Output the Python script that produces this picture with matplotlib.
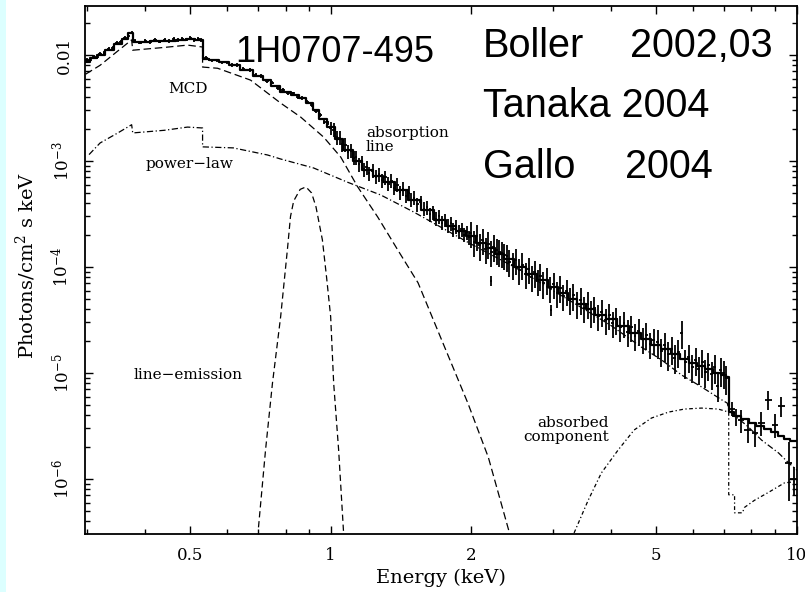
import numpy as np
import matplotlib
matplotlib.use("Agg")
import matplotlib.pyplot as plt
from matplotlib.ticker import FixedLocator, FixedFormatter, NullFormatter, LogLocator
from matplotlib.patches import Rectangle

plt.rcParams['font.family'] = ['DejaVu Serif']
plt.rcParams['mathtext.fontset'] = 'dejavuserif'

# ---------------- tick labels ----------------
x_ticks = [0.5, 1, 2, 5, 10]
x_tick_labels = ["0.5", "1", "2", "5", "10"]
y_ticks = [1e-6, 1e-5, 1e-4, 1e-3, 1e-2]
y_tick_labels = [r"$10^{-6}$", r"$10^{-5}$", r"$10^{-4}$", r"$10^{-3}$", "0.01"]

# ---------------- total model (histogram) ----------------
model_E = [0.298, 0.31, 0.32, 0.335, 0.35, 0.362, 0.372, 0.380, 0.40, 0.42, 0.45, 0.48, 0.50, 0.525, 0.537,
           0.56, 0.59, 0.62, 0.66, 0.70, 0.73, 0.76, 0.80, 0.84, 0.87, 0.90, 0.93, 0.96, 1.00,
           1.04, 1.09, 1.14, 1.20, 1.26, 1.33, 1.42, 1.51, 1.61, 1.72, 1.81, 1.90, 2.0, 2.1, 2.2, 2.3, 2.4,
           2.55, 2.7, 2.85, 3.0, 3.15, 3.3, 3.45, 3.6, 3.8, 4.0, 4.25, 4.5, 4.75, 5.0, 5.25, 5.5, 5.75, 6.0,
           6.25, 6.5, 6.75, 7.0, 7.12, 7.2, 7.45, 7.75, 8.05, 8.35, 8.65, 8.95, 9.25, 9.55, 9.85, 10.05]
model_F = [8.6e-3, 9.3e-3, 1.0e-2, 1.12e-2, 1.28e-2, 1.42e-2, 1.60e-2, 1.34e-2, 1.33e-2, 1.35e-2, 1.37e-2, 1.40e-2,
           1.42e-2, 1.40e-2, 9.2e-3, 8.9e-3, 8.5e-3, 8.1e-3, 7.2e-3, 6.4e-3, 5.8e-3, 5.1e-3, 4.5e-3, 4.2e-3,
           3.9e-3, 3.5e-3, 3.0e-3, 2.5e-3, 2.1e-3, 1.62e-3, 1.27e-3, 1.0e-3, 8.2e-4, 7.2e-4, 6.4e-4, 5.3e-4,
           4.3e-4, 3.45e-4, 2.8e-4, 2.45e-4, 2.2e-4, 1.95e-4, 1.7e-4, 1.5e-4, 1.33e-4, 1.2e-4, 1.0e-4, 8.6e-5,
           7.5e-5, 6.5e-5, 5.7e-5, 5.0e-5, 4.5e-5, 4.0e-5, 3.55e-5, 3.2e-5, 2.75e-5, 2.4e-5, 2.1e-5, 1.85e-5,
           1.68e-5, 1.5e-5, 1.37e-5, 1.25e-5, 1.16e-5, 1.08e-5, 1.0e-5, 9.5e-6, 9.2e-6, 4.3e-6, 3.95e-6,
           3.65e-6, 3.4e-6, 3.15e-6, 2.95e-6, 2.75e-6, 2.55e-6, 2.4e-6, 2.3e-6, 2.3e-6]

# ---------------- model components ----------------
mcd_E = [0.298, 0.32, 0.35, 0.374, 0.376, 0.44, 0.493, 0.531, 0.531, 0.572, 0.673, 0.781, 0.862, 0.966,
         1.051, 1.143, 1.262, 1.393, 1.54, 1.72, 1.97, 2.18, 2.41]
mcd_F = [6.6e-3, 8.0e-3, 1.1e-2, 1.39e-2, 1.11e-2, 1.18e-2, 1.24e-2, 1.19e-2, 7.7e-3, 7.5e-3, 5.8e-3,
         3.52e-3, 2.6e-3, 1.68e-3, 1.09e-3, 5.7e-4, 2.96e-4, 1.45e-4, 7.1e-5, 2.19e-5, 5.2e-6, 1.6e-6, 3.3e-7]

pl_E = [0.303, 0.32, 0.35, 0.374, 0.376, 0.44, 0.493, 0.531, 0.531, 0.618, 0.732, 0.781, 0.919, 1.088,
        1.281, 1.508, 2.0, 2.5, 3.0, 3.5, 4.0, 4.64, 5.13, 5.66, 6.25, 6.9, 7.1, 7.16, 7.88, 8.41, 9.15,
        9.61, 10.05]
pl_F = [1.15e-3, 1.48e-3, 1.85e-3, 2.2e-3, 1.84e-3, 1.95e-3, 2.09e-3, 2.05e-3, 1.36e-3, 1.33e-3, 1.14e-3,
        1.045e-3, 8.6e-4, 6.3e-4, 4.78e-4, 3.3e-4, 1.65e-4, 9.8e-5, 6.0e-5, 4.0e-5, 2.8e-5, 1.76e-5,
        1.33e-5, 9.6e-6, 7.4e-6, 5.6e-6, 5.2e-6, 4.4e-6, 3.1e-6, 2.33e-6, 1.76e-6, 1.42e-6, 1.2e-6]

line_E = [0.70, 0.725, 0.75, 0.781, 0.808, 0.82, 0.833, 0.86, 0.885, 0.91, 0.93, 0.96, 0.98, 1.0,
          1.015, 1.04, 1.066]
line_F = [3.5e-7, 1.9e-6, 8.0e-6, 3.4e-5, 1.5e-4, 3.0e-4, 4.2e-4, 5.4e-4, 5.7e-4, 5.0e-4, 3.7e-4,
          1.8e-4, 8.0e-5, 3.4e-5, 8.0e-6, 1.9e-6, 3.1e-7]

abs_E = [3.33, 3.57, 3.81, 4.14, 4.48, 4.88, 5.31, 5.74, 6.25, 6.79, 7.15, 7.15, 7.36, 7.36, 7.65,
         7.73, 8.12, 8.71, 9.42, 10.05]
abs_F = [3.1e-7, 6.3e-7, 1.14e-6, 1.88e-6, 2.9e-6, 3.76e-6, 4.28e-6, 4.57e-6, 4.67e-6, 4.57e-6,
         4.28e-6, 7.1e-7, 7.1e-7, 4.8e-7, 4.8e-7, 5.4e-7, 6.3e-7, 7.5e-7, 9.2e-7, 9.5e-7]

# ---------------- observed spectrum (by energy band) ----------------
soft_E = [0.300, 0.305, 0.31, 0.315, 0.32, 0.327, 0.334, 0.341, 0.348, 0.355, 0.362, 0.368, 0.374, 0.380,
          0.39, 0.40, 0.41, 0.42, 0.43, 0.44, 0.45, 0.46, 0.47, 0.48, 0.49, 0.50, 0.51, 0.52, 0.528,
          0.54, 0.555, 0.57, 0.585, 0.60, 0.615, 0.63, 0.65, 0.67, 0.69, 0.71, 0.73, 0.75, 0.77, 0.79,
          0.81, 0.83, 0.85, 0.87, 0.89, 0.91, 0.93, 0.95, 0.97, 0.985]
soft_F = [9.0e-3, 8.9e-3, 9.6e-3, 9.5e-3, 1.03e-2, 1.04e-2, 1.14e-2, 1.16e-2, 1.29e-2, 1.32e-2, 1.46e-2,
          1.50e-2, 1.63e-2, 1.37e-2, 1.31e-2, 1.35e-2, 1.33e-2, 1.38e-2, 1.34e-2, 1.39e-2, 1.36e-2,
          1.41e-2, 1.38e-2, 1.43e-2, 1.40e-2, 1.44e-2, 1.39e-2, 1.42e-2, 1.38e-2, 9.4e-3, 8.9e-3, 8.9e-3,
          8.5e-3, 8.5e-3, 8.0e-3, 8.0e-3, 7.4e-3, 7.2e-3, 6.5e-3, 6.3e-3, 5.7e-3, 5.5e-3, 4.85e-3, 4.7e-3,
          4.4e-3, 4.35e-3, 4.0e-3, 3.95e-3, 3.6e-3, 3.4e-3, 2.95e-3, 2.72e-3, 2.35e-3, 2.28e-3]
soft_err = 0.04

mid_E = [1.00, 1.015, 1.03, 1.045, 1.06, 1.075, 1.09, 1.105, 1.12, 1.135, 1.15, 1.165, 1.18, 1.195, 1.21,
         1.23, 1.25, 1.27, 1.29, 1.31, 1.33, 1.35, 1.37, 1.39, 1.41, 1.43, 1.45, 1.47, 1.49, 1.51,
         1.535, 1.56, 1.585, 1.61, 1.635, 1.66, 1.685, 1.71, 1.735, 1.76, 1.785, 1.81, 1.835, 1.86,
         1.885, 1.91, 1.935, 1.96, 1.985]
mid_F = [2.05e-3, 1.98e-3, 1.68e-3, 1.66e-3, 1.44e-3, 1.43e-3, 1.22e-3, 1.25e-3, 1.07e-3, 1.08e-3, 9.3e-4,
         9.7e-4, 8.4e-4, 8.7e-4, 7.7e-4, 8.1e-4, 7.1e-4, 7.5e-4, 6.6e-4, 7.0e-4, 6.1e-4, 6.5e-4, 5.6e-4,
         5.95e-4, 5.1e-4, 5.5e-4, 4.7e-4, 5.0e-4, 4.3e-4, 4.5e-4, 3.9e-4, 4.1e-4, 3.55e-4, 3.65e-4,
         3.15e-4, 3.3e-4, 2.85e-4, 3.0e-4, 2.62e-4, 2.78e-4, 2.45e-4, 2.58e-4, 2.28e-4, 2.42e-4, 2.15e-4,
         2.28e-4, 2.02e-4, 2.12e-4, 1.9e-4]
mid_err = 0.15

hard_E = [2.00, 2.03, 2.06, 2.09, 2.12, 2.15, 2.18, 2.21, 2.24, 2.27, 2.30, 2.33, 2.36, 2.39, 2.42,
          2.46, 2.50, 2.54, 2.58, 2.62, 2.66, 2.70, 2.74, 2.78, 2.82, 2.86, 2.91, 2.96, 3.01, 3.06,
          3.11, 3.16, 3.21, 3.26, 3.32, 3.38, 3.44, 3.50, 3.56, 3.62, 3.68, 3.75, 3.82, 3.89, 3.96,
          4.03, 4.10, 4.18, 4.26, 4.34, 4.42, 4.50, 4.58, 4.67, 4.76, 4.85, 4.94]
hard_F = [2.1e-4, 1.72e-4, 1.95e-4, 1.6e-4, 1.8e-4, 1.48e-4, 1.66e-4, 1.38e-4, 1.55e-4, 1.45e-4, 1.40e-4,
          1.36e-4, 1.30e-4, 1.26e-4, 1.12e-4, 1.05e-4, 1.16e-4, 9.4e-5, 1.05e-4, 8.6e-5, 9.6e-5, 8.0e-5,
          8.9e-5, 7.4e-5, 8.3e-5, 7.0e-5, 7.6e-5, 6.3e-5, 6.9e-5, 5.7e-5, 6.4e-5, 5.3e-5, 5.9e-5, 4.9e-5,
          5.4e-5, 4.5e-5, 4.9e-5, 4.1e-5, 4.5e-5, 3.7e-5, 4.1e-5, 3.45e-5, 3.8e-5, 3.15e-5, 3.5e-5,
          2.95e-5, 3.2e-5, 2.7e-5, 2.95e-5, 2.45e-5, 2.7e-5, 2.25e-5, 2.5e-5, 2.1e-5, 2.3e-5, 1.88e-5, 2.05e-5]
hard_err = 0.28

top_E = [5.03, 5.12, 5.21, 5.30, 5.39, 5.48, 5.57, 5.67, 5.77, 5.87, 5.97, 6.07, 6.17, 6.27, 6.37,
         6.47, 6.57, 6.67, 6.77, 6.87, 6.97, 7.07]
top_F = [1.95e-5, 1.62e-5, 1.82e-5, 1.5e-5, 1.7e-5, 1.4e-5, 1.58e-5, 2.4e-5, 1.26e-5, 1.42e-5, 1.15e-5,
         1.33e-5, 1.1e-5, 1.27e-5, 1.03e-5, 1.2e-5, 9.8e-6, 1.13e-5, 7.6e-6, 1.06e-5, 1.0e-5, 8.9e-6]
top_err = 0.3

outlier_E = [2.21, 2.97]
outlier_F = [7.4e-5, 3.9e-5]
outlier_err = [0.1, 0.12]

edge_E = [7.25, 7.40, 7.60, 7.85, 8.15, 8.40, 8.70, 8.98, 9.28, 9.62, 9.85]
edge_F = [4.6e-6, 3.9e-6, 3.6e-6, 2.9e-6, 2.7e-6, 3.4e-6, 5.6e-6, 3.25e-6, 4.9e-6, 1.42e-6, 1.0e-6]
edge_err = [0.15, 0.18, 0.25, 0.25, 0.25, 0.25, 0.2, 0.25, 0.22, 0.56, 0.3]

# ---------------- figure ----------------
W, H = 805, 592
fig = plt.figure(figsize=(W / 100, H / 100), dpi=100)
fig.patches.append(Rectangle((0, 0), 6 / W, 1, transform=fig.transFigure,
                             facecolor='#dcffff', edgecolor='none', zorder=0))
ax = fig.add_axes([85 / W, 58 / H, 712 / W, 528 / H])
ax.set_xscale('log')
ax.set_yscale('log')
ax.set_xlim(0.297, 10.02)
ax.set_ylim(3.03e-7, 2.9e-2)

k = 'black'
ax.plot(mcd_E, mcd_F, color=k, lw=0.9, ls=(0, (6, 3)))
ax.plot(pl_E, pl_F, color=k, lw=0.9, ls=(0, (5, 2, 1, 2)))
ax.plot(line_E, line_F, color=k, lw=0.9, ls=(0, (5, 3)))
ax.plot(abs_E, abs_F, color=k, lw=0.9, ls=(0, (3, 2, 1, 2)))

segments = [
    (soft_E, soft_F, soft_err, 0.008),
    (mid_E, mid_F, mid_err, 0.006),
    (hard_E, hard_F, hard_err, 0.007),
    (top_E, top_F, top_err, 0.008),
    (outlier_E, outlier_F, outlier_err, 0.006),
    (edge_E, edge_F, edge_err, 0.016),
]
for E, F, err, xf in segments:
    E = np.asarray(E)
    F = np.asarray(F)
    ax.errorbar(E, F, yerr=F * np.asarray(err), xerr=E * xf, fmt='none',
                ecolor=k, elinewidth=1.3, capsize=0)

ax.plot(model_E, model_F, color=k, lw=1.6, drawstyle='steps-mid')

for s in ax.spines.values():
    s.set_linewidth(1.3)

ax.xaxis.set_major_locator(FixedLocator(x_ticks))
ax.xaxis.set_major_formatter(FixedFormatter(x_tick_labels))
ax.xaxis.set_minor_locator(LogLocator(base=10, subs=np.arange(2, 10)))
ax.xaxis.set_minor_formatter(NullFormatter())
ax.yaxis.set_major_locator(FixedLocator(y_ticks))
ax.yaxis.set_major_formatter(FixedFormatter(y_tick_labels))
ax.yaxis.set_minor_locator(LogLocator(base=10, subs=np.arange(2, 10)))
ax.yaxis.set_minor_formatter(NullFormatter())

ax.tick_params(which='both', direction='in', top=True, right=True, width=1.0)
ax.tick_params(which='major', length=6, labelsize=12, pad=9)
ax.tick_params(which='minor', length=3.5)
ax.tick_params(axis='y', labelrotation=90)
for lab in ax.get_yticklabels():
    lab.set_va('center')

def fx(px):
    return px / W

def fy(py):
    return 1 - py / H

fig.text(fx(441), fy(578), "Energy (keV)", fontsize=14, ha='center', va='center')
fig.text(fx(26), fy(265), r"Photons/cm$^2$ s keV", fontsize=14, ha='center', va='center', rotation=90)

big = dict(fontsize=28.5, family=['Liberation Sans'], va='baseline', ha='left')
fig.text(fx(235), fy(62), "1H0707-495", **dict(big, fontsize=26))
fig.text(fx(483), fy(57), "Boller", **big)
fig.text(fx(630), fy(57), "2002,03", **big)
fig.text(fx(483), fy(117), "Tanaka 2004", **big)
fig.text(fx(483), fy(178), "Gallo", **big)
fig.text(fx(625), fy(178), "2004", **big)

small = dict(fontsize=11, va='center', linespacing=1.0)
fig.text(fx(188), fy(89), "MCD", ha='center', **small)
fig.text(fx(189), fy(164), "power\u2212law", ha='center', **small)
fig.text(fx(366), fy(140), "absorption\nline", ha='left', multialignment='left', **small)
fig.text(fx(188), fy(375), "line\u2212emission", ha='center', **small)
fig.text(fx(609), fy(430), "absorbed\ncomponent", ha='right', multialignment='right', **small)

fig.savefig("out.png", dpi=100)
